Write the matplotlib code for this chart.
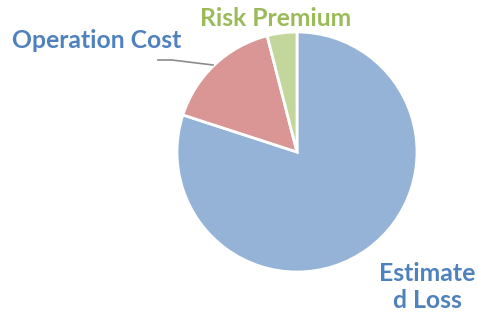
import matplotlib.pyplot as plt

# slice data (clockwise from 12 o'clock)
labels = ['Estimated Loss', 'Operation Cost', 'Risk Premium']
values = [80, 16, 4]
colors = ['#95B3D7', '#D99694', '#C3D69B']

W, H = 478, 320
fig = plt.figure(figsize=(W / 100, H / 100), dpi=100)
fig.patch.set_facecolor('white')

# pie: centre ~(297,152) px, radius ~120 px
ax = fig.add_axes([177 / W, (H - 272) / H, 240 / W, 240 / H])
ax.pie(values, colors=colors, startangle=90, counterclock=False,
       radius=1, wedgeprops=dict(edgecolor='white', linewidth=2))
ax.set_xlim(-1, 1)
ax.set_ylim(-1, 1)
ax.set_aspect('equal')
ax.axis('off')

font = dict(family='Lato', weight='bold', fontsize=17.8)
def px(x, y):
    return x / W, 1 - y / H

fig.text(*px(97, 40), 'Operation Cost', color='#4F81BD', ha='center', va='center', **font)
fig.text(*px(276, 18), 'Risk Premium', color='#9BBB59', ha='center', va='center', **font)
fig.text(*px(427, 287), 'Estimate\nd Loss', color='#4F81BD', ha='center', va='center',
         linespacing=1.2, **font)

# leader line for Operation Cost
fig.add_artist(plt.Line2D([158 / W, 172 / W, 213 / W],
                          [1 - 60 / H, 1 - 60 / H, 1 - 65 / H],
                          color='#8C8C8C', linewidth=1.2))

fig.savefig('out.png', dpi=100)
